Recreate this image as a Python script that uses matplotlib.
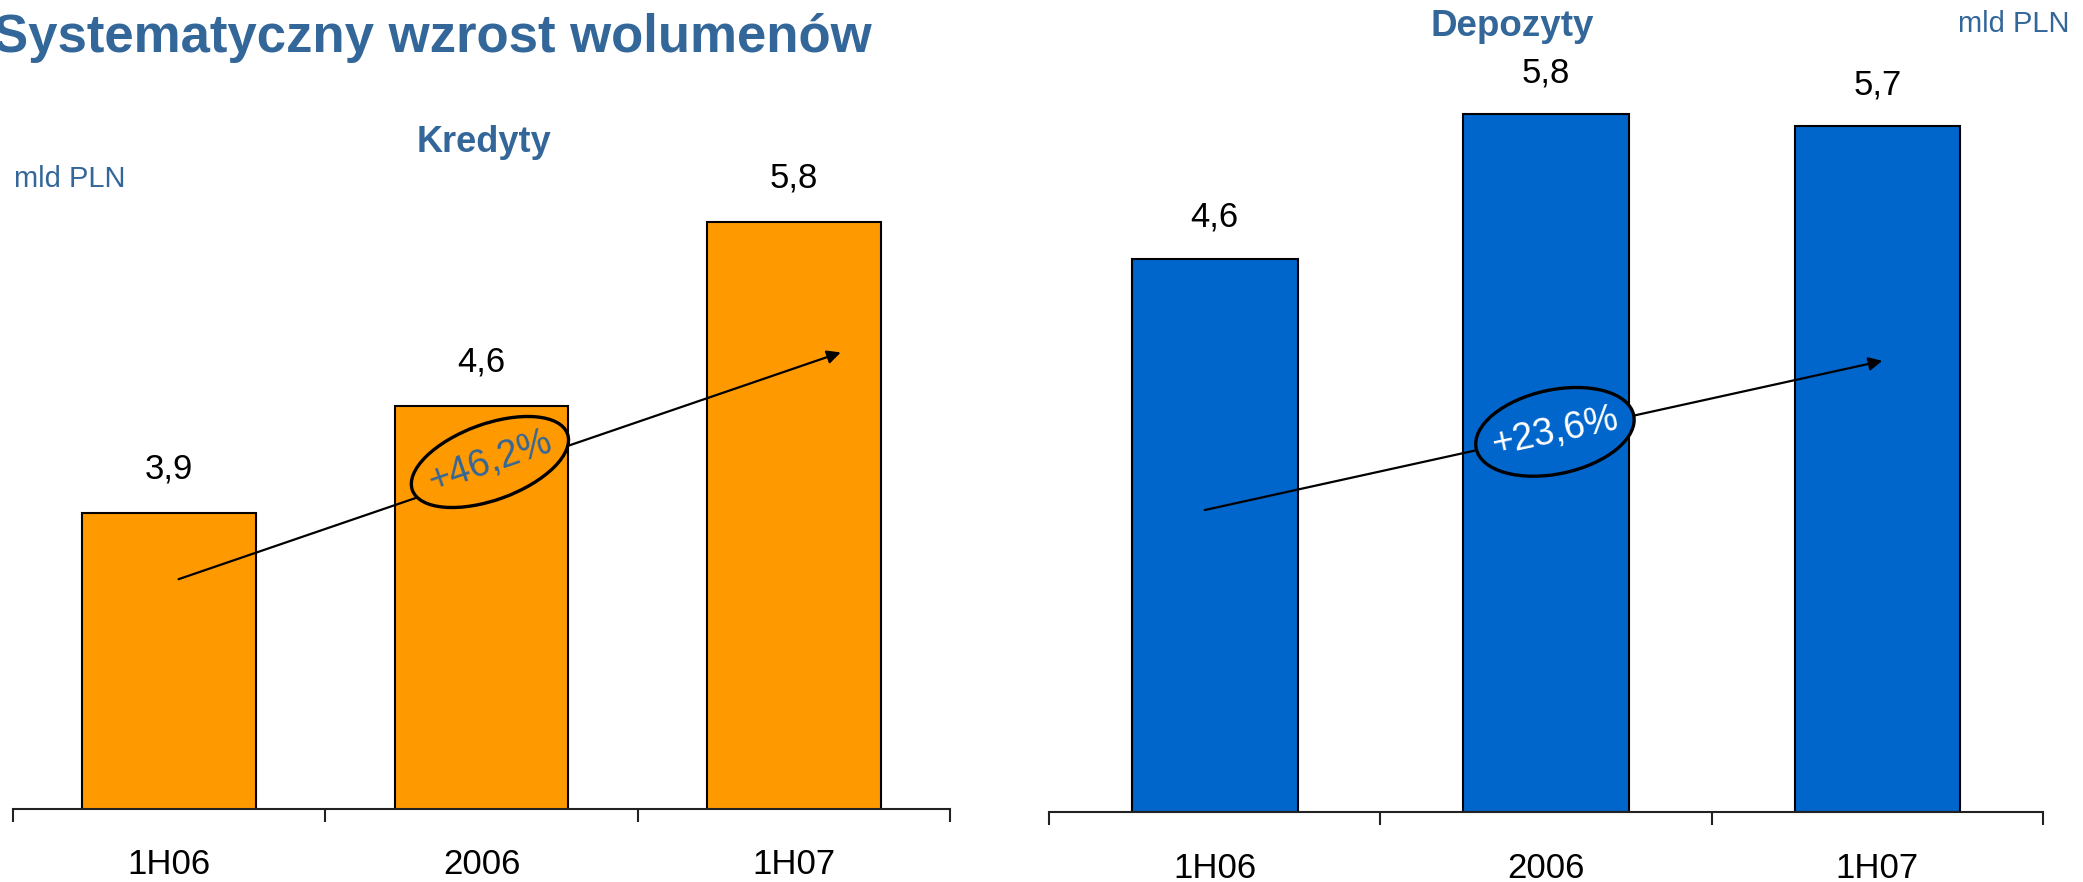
import matplotlib
matplotlib.use("Agg")
import matplotlib.pyplot as plt
from matplotlib.patches import Ellipse
from matplotlib.transforms import ScaledTranslation

plt.rcParams['font.family'] = ['Liberation Sans', 'DejaVu Sans']

categories = ["1H06", "2006", "1H07"]
kredyty = [3.9, 4.6, 5.8]
depozyty = [4.6, 5.8, 5.7]
kredyty_labels = ["3,9", "4,6", "5,8"]
depozyty_labels = ["4,6", "5,8", "5,7"]
kredyty_growth = "+46,2%"
depozyty_growth = "+23,6%"

BLUE_TXT = "#336699"
ORANGE = "#FF9900"
BLUE = "#0066CC"

W, H = 2083, 882
fig = plt.figure(figsize=(W / 100, H / 100), dpi=100)


def px_axes(x0, x1, ybot, ytop):
    return fig.add_axes([x0 / W, (H - ybot) / H, (x1 - x0) / W, (ybot - ytop) / H])


ax1 = px_axes(13, 950, 809, 120)
ax2 = px_axes(1049, 2043, 812, 40)


def style(ax, vals, labels, color, width, ylim, lab_off, pad):
    x = range(len(vals))
    ax.bar(x, vals, width=width, color=color, edgecolor="black", linewidth=1.5, zorder=1)
    ax.set_xlim(-0.5, len(vals) - 0.5)
    ax.set_ylim(*ylim)
    for s in ["top", "right", "left"]:
        ax.spines[s].set_visible(False)
    ax.spines["bottom"].set_linewidth(1.5)
    ax.spines["bottom"].set_color("#222222")
    ax.set_yticks([])
    ax.set_xticks(list(x))
    ax.set_xticklabels(categories, fontsize=25)
    ax.tick_params(axis="x", which="major", length=0, pad=pad)
    ax.set_xticks([i - 0.5 for i in range(len(vals) + 1)], minor=True)
    ax.tick_params(axis="x", which="minor", length=9, width=1.5, color="#222222", direction="out")
    for xi, v, l in zip(x, vals, labels):
        ax.annotate(l, (xi, v), xytext=(0, lab_off), textcoords="offset points",
                    ha="center", va="center", fontsize=25)
    ax.patch.set_alpha(0)


style(ax1, kredyty, kredyty_labels, ORANGE, 0.557, (1.97, 1.97 + 689 / 153.2), 32, 28)
style(ax2, depozyty, depozyty_labels, BLUE, 0.5, (0, 772 / 120.3), 30, 29)


def growth(ax, start, end, center, w, h, ang, txt, txtcolor, fill, rot):
    ax.annotate("", xy=end, xytext=start,
                arrowprops=dict(arrowstyle="-|>", color="black", lw=1.6, mutation_scale=20,
                                shrinkA=0, shrinkB=0), zorder=2)
    e = Ellipse((0, 0), w / 100, h / 100, angle=ang, facecolor=fill, edgecolor="black",
                linewidth=2.4,
                transform=fig.dpi_scale_trans + ScaledTranslation(center[0], center[1], ax.transData),
                zorder=3)
    ax.add_patch(e)
    ax.text(center[0], center[1], txt, ha="center", va="center", rotation=rot,
            rotation_mode="anchor", fontsize=27, color=txtcolor, zorder=4)


growth(ax1, (0.03, 3.47), (2.15, 4.95), (1.027, 4.235), 165, 76, 20,
       kredyty_growth, BLUE_TXT, ORANGE, 19)
growth(ax2, (-0.03, 2.51), (2.015, 3.75), (1.027, 3.16), 161, 84, 12,
       depozyty_growth, "white", BLUE, 12)

fig.text(-7 / W, 1 - 52 / H, "Systematyczny wzrost wolumenów", fontsize=38,
         fontweight="bold", color=BLUE_TXT, ha="left", va="baseline")
fig.text(484 / W, 1 - 152 / H, "Kredyty", fontsize=26, fontweight="bold",
         color=BLUE_TXT, ha="center", va="baseline")
fig.text(1512 / W, 1 - 36 / H, "Depozyty", fontsize=26.5, fontweight="bold",
         color=BLUE_TXT, ha="center", va="baseline")
fig.text(14 / W, 1 - 187 / H, "mld PLN", fontsize=21, color=BLUE_TXT,
         ha="left", va="baseline")
fig.text(1958 / W, 1 - 32 / H, "mld PLN", fontsize=21, color=BLUE_TXT,
         ha="left", va="baseline")

fig.savefig("out.png", dpi=100)
